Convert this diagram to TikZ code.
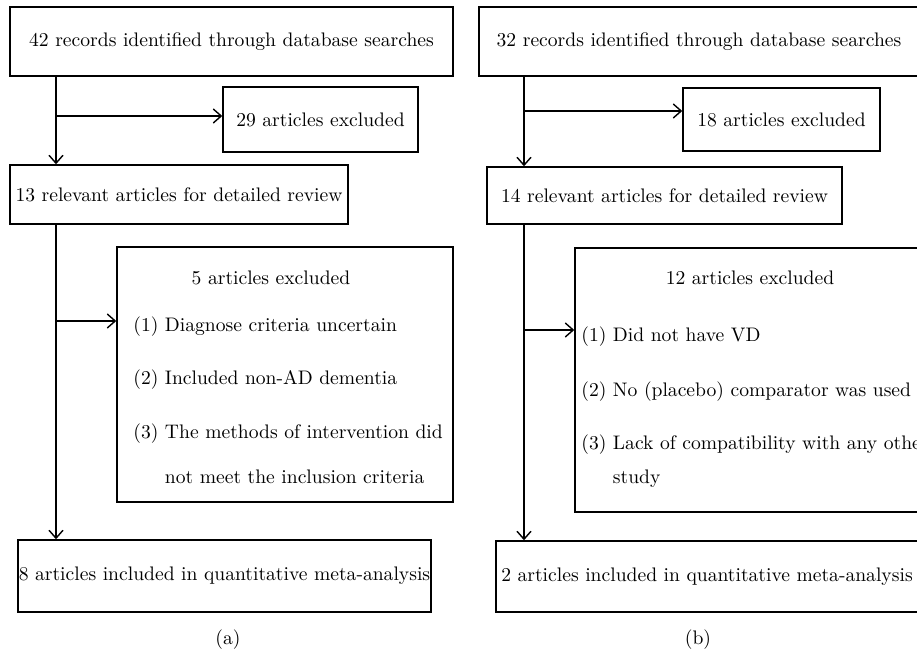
\documentclass[tikz,border=0pt]{standalone}
\usetikzlibrary{arrows.meta}
\newlength{\pxlen}
\setlength{\pxlen}{0.5pt}
\tikzset{box/.style={draw, line width=0.7pt, inner sep=0pt, font=\fontsize{9.8}{12}\selectfont},
         txt/.style={inner sep=0pt, anchor=base, font=\fontsize{9.8}{12}\selectfont},
         item/.style={inner sep=0pt, anchor=base west, font=\fontsize{9.8}{12}\selectfont},
         link/.style={line width=0.7pt, ->},
         >={Straight Barb[length=4pt, width=7pt]}}

\begin{document}
\begin{tikzpicture}[x=0.5pt, y=-0.5pt]
    \useasboundingbox (0,0) rectangle (917,652);
    \clip (0,0) rectangle (917,652);

    % (a)
    \node (a1) at (231.5, 41.5) [box, minimum width=443\pxlen, minimum height=69\pxlen] {42 records identified through database searches};
    \node (a2) at (320.5, 119.5) [box, minimum width=195\pxlen, minimum height=65\pxlen] {29 articles excluded};
    \node (a3) at (179, 194.5) [box, minimum width=338\pxlen, minimum height=59\pxlen] {13 relevant articles for detailed review};
    \node (a4) at (285, 374.5) [box, minimum width=336\pxlen, minimum height=255\pxlen] {};
    \node (a5) at (224.5, 576) [box, minimum width=413\pxlen, minimum height=72\pxlen] {8 articles included in quantitative meta-analysis};

    \node (a4t) at (271, 285) [txt] {5 articles excluded};
    \node (a4i) at (133, 332) [item] {(1) Diagnose criteria uncertain};
    \node (a4ii) at (133, 385) [item] {(2) Included non-AD dementia};
    \node (a4iii) at (133, 439) [item] {(3) The methods of intervention did};
    \node (a4iv) at (133, 484) [item] {\phantom{(3) }not meet the inclusion criteria};
    \node (capa) at (228, 645) [txt] {(a)};

    \coordinate (ja1) at (56, 116);
    \coordinate (ja2) at (56, 321);
    \draw[link] (a1.south -| ja1) -- (a3.north -| ja1);
    \draw[link] (ja1) -- (ja1 -| a2.west);
    \draw[link] (a3.south -| ja2) -- (a5.north -| ja2);
    \draw[link] (ja2) -- (ja2 -| a4.west);

    % (b)
    \node (b1) at (699, 41.5) [box, minimum width=440\pxlen, minimum height=69\pxlen] {32 records identified through database searches};
    \node (b2) at (781.5, 119.5) [box, minimum width=197\pxlen, minimum height=63\pxlen] {18 articles excluded};
    \node (b3) at (664.5, 195.5) [box, minimum width=355\pxlen, minimum height=57\pxlen] {14 relevant articles for detailed review};
    \node (b4) at (750, 380) [box, minimum width=350\pxlen, minimum height=264\pxlen] {};
    \node (b5) at (707, 576.5) [box, minimum width=422\pxlen, minimum height=71\pxlen] {2 articles included in quantitative meta-analysis};

    \node (b4t) at (750, 285) [txt] {12 articles excluded};
    \node (b4i) at (581, 342) [item] {(1) Did not have VD};
    \node (b4ii) at (581, 397) [item] {(2) No (placebo) comparator was used};
    \node (b4iii) at (581, 450) [item] {(3) Lack of compatibility with any other};
    \node (b4iv) at (581, 484) [item] {\phantom{(3) }study};
    \node (capb) at (698, 645) [txt] {(b)};

    \coordinate (jb1) at (524, 111);
    \coordinate (jb2) at (524, 330);
    \draw[link] (b1.south -| jb1) -- (b3.north -| jb1);
    \draw[link] (jb1) -- (jb1 -| b2.west);
    \draw[link] (b3.south -| jb2) -- (b5.north -| jb2);
    \draw[link] (jb2) -- (jb2 -| b4.west);
\end{tikzpicture}
\end{document}
